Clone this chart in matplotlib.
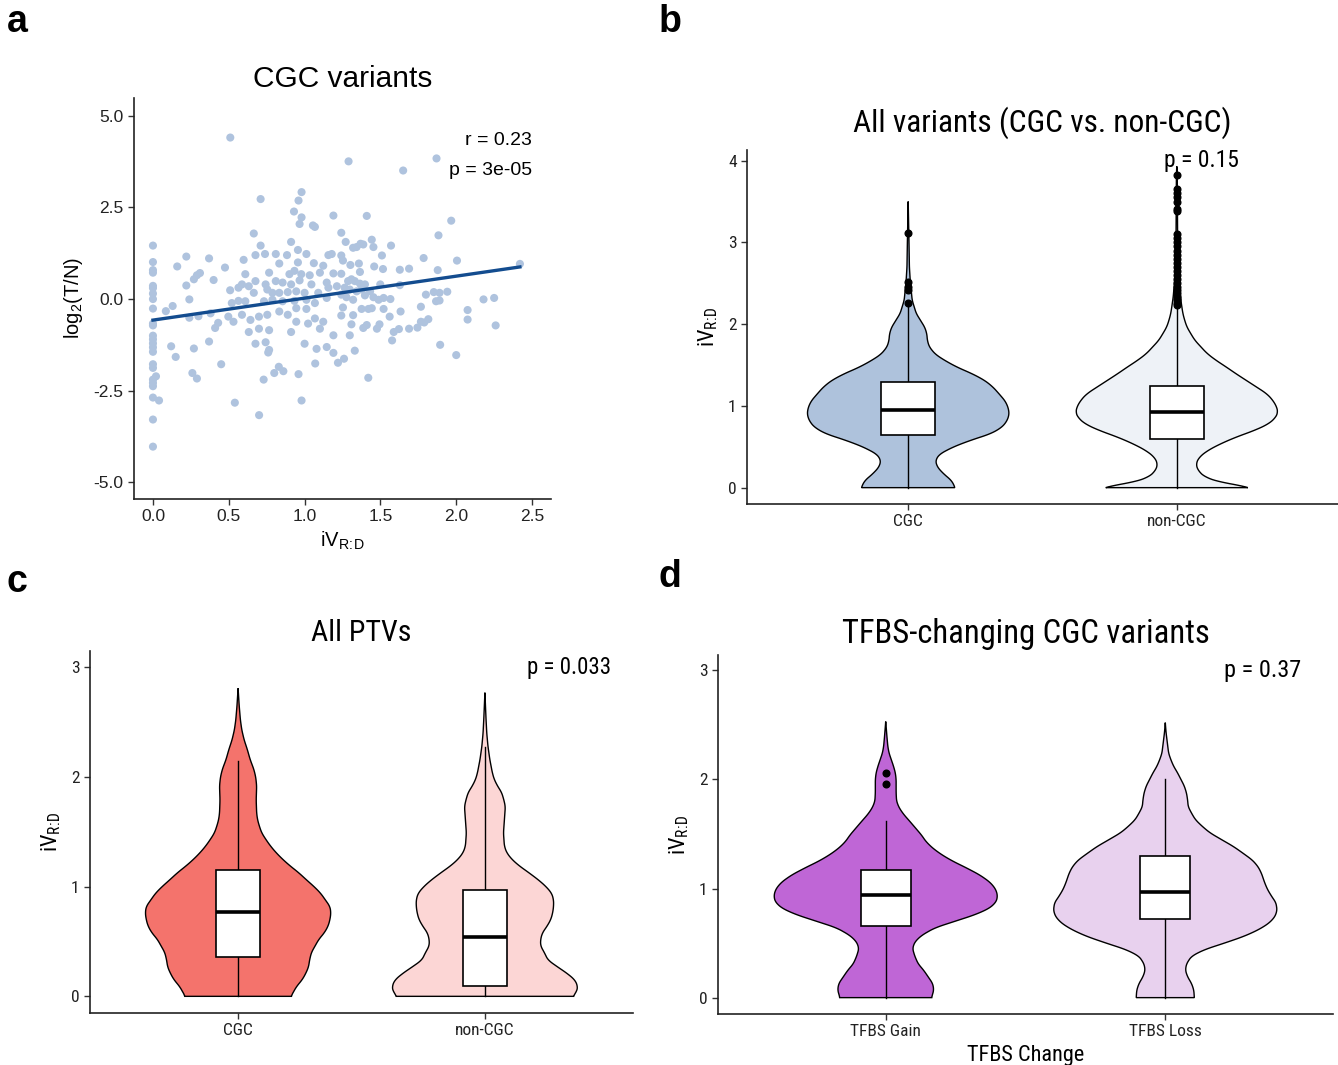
import numpy as np
import matplotlib
matplotlib.use("Agg")
import matplotlib.pyplot as plt
from matplotlib import font_manager as fm
from matplotlib.font_manager import FontProperties

# ---------------- data ----------------
# panel a: CGC variants scatter (iV_R:D vs log2(T/N))
scatter_x = [0] * 24 + [
    0.02, 0.04, 0.085, 0.13, 0.16, 0.12, 0.15, 0.22, 0.22, 0.24, 0.24, 0.27, 0.26, 0.29, 0.27, 0.29, 0.31, 0.30,
    0.37, 0.40, 0.38, 0.37, 0.41, 0.43, 0.45, 0.51, 0.54, 0.70, 0.71, 0.73, 0.76, 0.80, 0.83, 0.86, 0.93, 0.96,
    0.96, 0.98, 0.98, 0.98, 1.07, 1.19, 1.19, 1.22, 1.26, 1.29, 1.41, 1.42, 1.65, 1.87, 2.00, 2.18, 2.25, 2.26,
    2.42,
    # dense centre (left part)
    0.665, 0.967, 1.068, 1.055, 0.911, 0.710, 0.956, 0.676, 0.739, 0.810, 0.884, 1.012, 1.157, 1.179, 0.598,
    0.833, 0.956, 1.061, 1.123, 0.475, 0.609, 0.766, 0.900, 0.933, 0.978, 1.034, 1.101, 1.190, 0.587, 0.632,
    0.676, 0.743, 0.810, 0.855, 0.911, 0.967, 1.045, 1.146, 1.213, 0.509, 0.564, 0.665, 0.754, 0.788, 0.833,
    0.889, 0.945, 1.000, 1.090, 1.157, 0.520, 0.564, 0.609, 0.732, 0.788, 0.855, 0.933, 1.012, 1.068, 1.146,
    0.497, 0.531, 0.587, 0.643, 0.699, 0.754, 0.833, 0.889, 0.945, 1.012, 1.068, 1.123, 0.632, 0.699, 0.766,
    0.911, 0.945, 1.023, 1.101, 1.190, 0.676, 0.743, 0.766, 1.000, 1.079, 1.146,
    # dense centre (right part)
    1.242, 1.271, 1.320, 1.343, 1.369, 1.387, 1.443, 1.454, 1.570, 1.883, 1.967, 1.242, 1.253, 1.302, 1.358,
    1.459, 1.510, 1.517, 1.628, 1.689, 1.785, 1.878, 2.005, 1.242, 1.365, 1.287, 1.309, 1.331, 1.365, 1.398,
    1.499, 1.628, 1.264, 1.298, 1.343, 1.376, 1.432, 1.242, 1.276, 1.320, 1.398, 1.454, 1.488, 1.521, 1.566,
    1.800, 1.852, 1.890, 1.941, 1.867, 1.890, 1.253, 1.320, 1.376, 1.421, 1.443, 1.521, 1.633, 1.767, 2.075,
    2.075, 1.242, 1.309, 1.387, 1.410, 1.477, 1.494, 1.561, 1.588, 1.622, 1.689, 1.744, 1.767, 1.789, 1.816,
    1.298, 1.577, 1.331, 1.894]
scatter_y = [1.46, 1.01, 0.79, 0.72, 0.36, 0.30, 0.15, 0.0, -0.26, -0.67, -0.72, -1.0, -1.10, -1.21, -1.32,
             -1.44, -1.78, -1.88, -2.20, -2.29, -2.38, -2.69, -3.29, -4.03] + [
    -2.11, -2.77, -0.33, -0.19, 0.89, -1.29, -1.58, 1.16, 0.37, -0.01, -0.51, -1.35, -2.02, -2.17, 0.54, 0.65,
    0.71, -0.47, 1.11, 0.52, -0.39, -1.16, -0.79, -0.65, -1.78, 4.41, -2.83, -3.17, 2.73, -2.20, -1.46, -2.02,
    -1.85, -1.97, 2.39, -2.05, 2.69, 2.23, 2.92, -2.77, -1.76, 2.28, -1.47, -1.74, -1.63, 3.76, 2.27, -2.15,
    3.51, 3.84, -1.53, -0.01, 0.03, -0.72, 0.96,
    1.79, 2.05, 1.97, 2.01, 1.56, 1.46, 1.34, 1.20, 1.23, 1.23, 1.20, 1.23, 1.20, 1.23, 1.07,
    0.97, 1.00, 0.98, 0.91, 0.86, 0.68, 0.72, 0.68, 0.77, 0.68, 0.65, 0.72, 0.70, 0.40, 0.35,
    0.49, 0.40, 0.49, 0.45, 0.40, 0.51, 0.40, 0.45, 0.35, 0.24, 0.31, 0.17, 0.26, 0.17, 0.17,
    0.19, 0.21, 0.17, 0.17, 0.31, -0.11, -0.05, -0.06, -0.06, -0.02, -0.06, -0.05, -0.02, -0.11, 0.03,
    -0.48, -0.62, -0.43, -0.57, -0.48, -0.43, -0.34, -0.43, -0.25, -0.27, -0.53, -0.62, -0.90, -0.81, -0.85,
    -0.90, -0.62, -0.67, -0.81, -0.99, -1.22, -1.18, -1.39, -1.22, -1.36, -1.31,
    1.81, 1.56, 1.40, 1.42, 1.51, 1.49, 1.62, 1.42, 1.46, 1.74, 2.14, 1.19, 1.05, 0.93, 0.97,
    0.89, 1.19, 0.82, 0.80, 0.83, 1.12, 0.79, 1.05, 0.69, 0.74, 0.49, 0.54, 0.49, 0.42, 0.40,
    0.40, 0.38, 0.31, 0.26, 0.21, 0.26, 0.21, 0.12, 0.05, -0.02, 0.10, 0.05, -0.02, 0.03, 0.00,
    0.12, 0.19, 0.17, 0.20, -0.06, -0.04, -0.23, -0.44, -0.27, -0.27, -0.25, -0.27, -0.34, -0.21, -0.30,
    -0.56, -0.45, -0.69, -0.79, -0.71, -0.81, -0.69, -0.48, -0.90, -0.82, -0.81, -0.78, -0.62, -0.64, -0.55,
    -0.99, -1.13, -1.41, -1.25]
fit_intercept = -0.575   # linear fit shown in panel a
fit_slope = 0.60
fit_x_range = [0.0, 2.42]
corr_label = ["r = 0.23", "p = 3e-05"]

# violin profiles: y level -> relative half-width (1 = widest)
# panel b
b_categories = ["CGC", "non-CGC"]
b_cgc_y = [0, .086, .17, .25, .33, .41, .50, .58, .66, .74, .82, .90, .98, 1.06, 1.14, 1.23, 1.31, 1.39, 1.47,
           1.55, 1.63, 1.72, 1.80, 1.88, 1.96, 2.05, 2.13, 2.21, 2.29, 2.41, 2.54, 2.7, 3.0, 3.5]
b_cgc_w = [.465, .43, .35, .29, .27, .31, .45, .62, .82, .93, .98, 1.0, .99, .96, .905, .84, .76, .64, .49,
           .37, .27, .21, .19, .185, .165, .12, .08, .06, .04, .03, .02, .012, .008, 0]
b_non_y = [0, .025, .065, .127, .21, .29, .37, .45, .535, .62, .70, .78, .86, .92, .985, 1.07, 1.15, 1.23, 1.31,
           1.39, 1.475, 1.56, 1.64, 1.72, 1.80, 1.88, 1.965, 2.05, 2.13, 2.21, 2.33, 2.50, 2.70, 3.03, 3.84, 3.93]
b_non_w = [.76, .63, .43, .28, .21, .19, .22, .30, .43, .59, .77, .91, .98, 1.0, .99, .95, .89, .79, .69,
           .59, .49, .385, .30, .24, .18, .14, .10, .077, .06, .05, .036, .024, .016, .008, .004, 0]
b_box = [[0.0, 0.64, 0.95, 1.29, 2.22], [0.0, 0.60, 0.93, 1.24, 2.20]]   # lo-whisker, q1, median, q3, hi-whisker
b_outliers = [[2.26, 2.42, 2.45, 2.52, 3.12],
              [2.23, 2.26, 2.29, 2.32, 2.35, 2.38, 2.42, 2.46, 2.50, 2.55, 2.60, 2.65, 2.70, 2.75, 2.80,
               2.85, 2.90, 2.95, 3.00, 3.05, 3.10, 3.38, 3.41, 3.50, 3.55, 3.60, 3.65, 3.83]]
b_pval = "p = 0.15"

# panel c
c_categories = ["CGC", "non-CGC"]
c_cgc_y = [0, .09, .15, .21, .27, .33, .40, .46, .52, .58, .64, .70, .76, .82, .88, .94, 1.0, 1.06, 1.13, 1.19,
           1.25, 1.31, 1.37, 1.43, 1.49, 1.55, 1.61, 1.67, 1.79, 1.92, 2.0, 2.07, 2.16, 2.25, 2.34, 2.43, 2.52,
           2.65, 2.81]
c_cgc_w = [.57, .63, .69, .73, .76, .77, .79, .83, .87, .93, .97, .99, 1.0, .99, .94, .89, .82, .74, .65, .56,
           .48, .41, .35, .30, .255, .23, .21, .20, .195, .20, .19, .17, .13, .10, .065, .04, .025, .012, 0]
c_non_y = [0, .046, .09, .15, .21, .27, .33, .40, .46, .52, .58, .64, .70, .76, .82, .88, .94, 1.0, 1.06, 1.13,
           1.19, 1.25, 1.31, 1.37, 1.49, 1.61, 1.73, 1.79, 1.86, 1.92, 1.98, 2.04, 2.16, 2.28, 2.40, 2.53, 2.77]
c_non_w = [.95, .99, 1.0, .97, .885, .78, .68, .64, .60, .60, .62, .67, .71, .73, .74, .74, .72, .66, .58, .47,
           .37, .29, .235, .21, .20, .21, .22, .205, .18, .135, .10, .08, .053, .033, .02, .012, 0]
c_box = [[0.0, 0.36, 0.77, 1.15, 2.15], [0.0, 0.09, 0.54, 0.97, 2.27]]
c_pval = "p = 0.033"

# panel d
d_categories = ["TFBS Gain", "TFBS Loss"]
d_gain_y = [0, .07, .13, .19, .25, .31, .38, .45, .51, .57, .64, .70, .76, .82, .88, .94, 1.0, 1.06, 1.125, 1.19,
            1.25, 1.31, 1.37, 1.43, 1.49, 1.55, 1.61, 1.68, 1.74, 1.80, 1.875, 2.0, 2.06, 2.12, 2.18, 2.24, 2.30,
            2.39, 2.53]
d_gain_w = [.41, .43, .42, .38, .34, .29, .26, .24, .26, .32, .44, .62, .80, .93, .99, 1.0, .98, .93, .84, .72,
            .60, .50, .42, .36, .32, .27, .22, .16, .12, .097, .093, .093, .086, .07, .05, .03, .019, .011, 0]
d_loss_y = [0, .07, .13, .19, .25, .31, .38, .44, .50, .56, .62, .68, .74, .80, .87, .93, .99, 1.05, 1.14, 1.20,
            1.26, 1.32, 1.385, 1.45, 1.51, 1.57, 1.63, 1.69, 1.75, 1.81, 1.875, 1.94, 2.0, 2.06, 2.12, 2.18, 2.24,
            2.33, 2.43, 2.52]
d_loss_w = [.26, .255, .235, .20, .18, .19, .235, .35, .53, .70, .83, .925, .98, 1.0, .99, .95, .915, .89, .86,
            .83, .78, .70, .61, .50, .40, .33, .27, .235, .205, .20, .19, .17, .14, .11, .075, .05, .03, .019,
            .007, 0]
d_box = [[0.0, 0.66, 0.94, 1.17, 1.62], [0.0, 0.72, 0.97, 1.30, 2.00]]
d_outliers = [[1.96, 2.06], []]
d_pval = "p = 0.37"

# ---------------- fonts ----------------
names = {f.name for f in fm.fontManager.ttflist}
REG = "Liberation Sans" if "Liberation Sans" in names else "DejaVu Sans"


def find_narrow():
    entries = fm.fontManager.ttflist
    def ok(f):
        return f.style == "normal" and f.weight in (400, "normal", "regular", "book")
    for want in ["Liberation Sans Narrow", "Arial Narrow", "Roboto Condensed", "Open Sans Condensed"]:
        for f in entries:
            if f.name == want and ok(f):
                return f.fname
    for f in entries:
        base = f.fname.split("/")[-1].lower()
        if ok(f) and f.stretch in ("condensed", "semi-condensed") and \
                ("notosans-" in base or "opensans" in base or "roboto" in base):
            return f.fname
    for f in entries:
        base = f.fname.split("/")[-1].lower()
        if base == "dejavusanscondensed.ttf":
            return f.fname
    return None


NARROW_FILE = find_narrow()
if NARROW_FILE:
    NAR_NAME = FontProperties(fname=NARROW_FILE).get_name()
    scale = 1.0
else:
    NAR_NAME = REG
    scale = 0.92


def nar(size):
    if NARROW_FILE:
        return FontProperties(fname=NARROW_FILE, size=size)
    return FontProperties(family=REG, size=size * scale)


plt.rcParams["font.family"] = [REG, "DejaVu Sans"]
plt.rcParams["mathtext.fontset"] = "custom"
plt.rcParams["mathtext.rm"] = REG
plt.rcParams["mathtext.sf"] = NAR_NAME

W, H = 1338, 1065
fig = plt.figure(figsize=(W / 100, H / 100), dpi=100)


def add_axes(l, r, t, b):
    return fig.add_axes([l / W, 1 - b / H, (r - l) / W, (b - t) / H])


def style(ax, fp):
    for s in ["top", "right"]:
        ax.spines[s].set_visible(False)
    for s in ["left", "bottom"]:
        ax.spines[s].set_linewidth(1.2)
        ax.spines[s].set_color("#222222")
    ax.tick_params(length=4, width=1.0, color="#333333", labelcolor="#222222")
    for lab in ax.get_xticklabels() + ax.get_yticklabels():
        lab.set_fontproperties(fp)


def smooth_profile(y, w):
    yy = np.linspace(y[0], y[-1], 400)
    ww = np.interp(yy, y, w)
    k = 9
    pad = np.concatenate([np.full(k, ww[0]), ww, np.full(k, ww[-1])])
    ww = np.convolve(pad, np.ones(k) / k, mode="same")[k:-k]
    ww[-1] = 0
    return yy, ww


def violin(ax, pos, y, w, halfmax, color):
    yy, ww = smooth_profile(y, w)
    xs = np.concatenate([pos - ww * halfmax, (pos + ww * halfmax)[::-1]])
    ys = np.concatenate([yy, yy[::-1]])
    ax.fill(xs, ys, facecolor=color, edgecolor="black", linewidth=1.0, zorder=2)


def boxplot(ax, pos, stats, bw, outliers=()):
    lo, q1, med, q3, hi = stats
    ax.plot([pos, pos], [lo, q1], color="black", lw=1.0, zorder=3)
    ax.plot([pos, pos], [q3, hi], color="black", lw=1.0, zorder=3)
    ax.add_patch(plt.Rectangle((pos - bw / 2, q1), bw, q3 - q1, facecolor="white",
                               edgecolor="black", lw=1.2, zorder=4))
    ax.plot([pos - bw / 2, pos + bw / 2], [med, med], color="black", lw=2.6, zorder=5,
            solid_capstyle="butt")
    if len(outliers):
        ax.plot([pos] * len(outliers), outliers, "o", color="black", ms=4.8, zorder=6)


SUB = r"$_{\mathrm{R\!:\!D}}$"
SUB_N = r"$_{\mathsf{R\!:\!D}}$"

# ---------------- panel a ----------------
axa = add_axes(134, 551, 98, 499)
axa.scatter(scatter_x, scatter_y, s=34, color="#AFC3DE", edgecolors="none", zorder=2)
fx = np.array(fit_x_range)
axa.plot(fx, fit_intercept + fit_slope * fx, color="#134C8F", lw=2.4, zorder=3)
axa.set_xlim(-0.125, 2.625)
axa.set_ylim(-5.46, 5.49)
axa.set_xticks([0.0, 0.5, 1.0, 1.5, 2.0, 2.5])
axa.set_xticklabels(["0.0", "0.5", "1.0", "1.5", "2.0", "2.5"])
axa.set_yticks([-5.0, -2.5, 0.0, 2.5, 5.0])
axa.set_yticklabels(["-5.0", "-2.5", "0.0", "2.5", "5.0"])
style(axa, FontProperties(family=REG, size=12.5))
axa.set_title("CGC variants", fontsize=21.5, family=REG, pad=8)
axa.set_xlabel("iV" + SUB, fontsize=14.5, family=REG, labelpad=4)
axa.set_ylabel(r"log$_{\mathrm{2}}$(T/N)", fontsize=14.5, family=REG, labelpad=6)
axa.text(2.5, 4.32, corr_label[0], ha="right", va="center", fontsize=14, family=REG)
axa.text(2.5, 3.52, corr_label[1], ha="right", va="center", fontsize=14, family=REG)


def violin_panel(box, ylim, cats, profiles, colors, stats, outl, halfmax, bw, pval, pxy, title,
                 yticks, tpad, tsize, psize, xlabel=None):
    ax = add_axes(*box)
    for i in range(2):
        violin(ax, i + 1, profiles[i][0], profiles[i][1], halfmax, colors[i])
        boxplot(ax, i + 1, stats[i], bw, outl[i])
    ax.set_xlim(0.4, 2.6)
    ax.set_ylim(*ylim)
    ax.set_xticks([1, 2])
    ax.set_xticklabels(cats)
    ax.set_yticks(yticks)
    ax.set_yticklabels([str(t) for t in yticks])
    style(ax, nar(12.5))
    ax.set_title(title, fontproperties=nar(tsize), pad=tpad)
    ax.set_ylabel("iV" + SUB_N, fontproperties=nar(16), labelpad=6)
    if xlabel:
        ax.set_xlabel(xlabel, fontproperties=nar(16), labelpad=4)
    ax.text(pxy[0], pxy[1], pval, ha="center", va="center", fontproperties=nar(psize), zorder=7)
    return ax


violin_panel((747, 1338, 150, 504), (-0.2, 4.13), b_categories,
             [(b_cgc_y, b_cgc_w), (b_non_y, b_non_w)], ["#AEC2DC", "#EEF2F7"],
             b_box, b_outliers, 0.376, 0.2, b_pval, (2.09, 4.0),
             "All variants (CGC vs. non-CGC)", [0, 1, 2, 3, 4], 13, 22.6, 17)

violin_panel((90, 633, 651, 1013), (-0.152, 3.15), c_categories,
             [(c_cgc_y, c_cgc_w), (c_non_y, c_non_w)], ["#F4736C", "#FCD6D5"],
             c_box, [[], []], 0.376, 0.18, c_pval, (2.34, 3.0),
             "All PTVs", [0, 1, 2, 3], 7, 21.5, 16.5)

violin_panel((718, 1333, 655, 1014), (-0.15, 3.14), d_categories,
             [(d_gain_y, d_gain_w), (d_loss_y, d_loss_w)], ["#BF66D6", "#E8D1EE"],
             d_box, d_outliers, 0.40, 0.18, d_pval, (2.35, 3.0),
             "TFBS-changing CGC variants", [0, 1, 2, 3], 9, 23.5, 17.5, xlabel="TFBS Change")

for lab, x, y in [("a", 17, 22), ("b", 670, 22), ("c", 17, 582), ("d", 670, 577)]:
    fig.text(x / W, 1 - y / H, lab, fontsize=27, fontweight="bold", family=REG,
             ha="center", va="center")

fig.savefig("out.png", dpi=100)
